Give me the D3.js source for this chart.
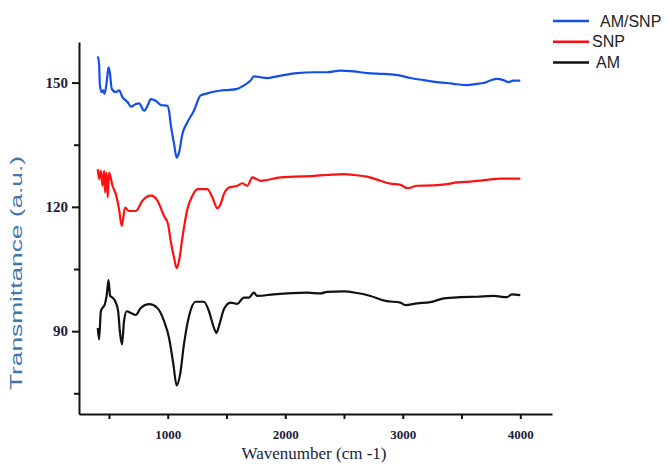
<!DOCTYPE html>
<html>
<head>
<meta charset="utf-8">
<script src="https://cdn.jsdelivr.net/npm/d3@7"></script>
<style>
  body { margin: 0; background: #fff; }
  svg { display: block; }
</style>
</head>
<body>
<div id="chart-container"></div>
<script>
// FTIR spectra (wavenumber cm-1, transmittance a.u.)
const amSnpWave = [405,416,422,437,450,462,479,496,507,524,558,586,615,658,686,728,756,799,828,856,898,941,997,1011,1025,1054,1076,1096,1125,1167,1223,1280,1337,1450,1507,1592,1648,1705,1733,1847,1960,2102,2243,2357,2470,2583,2697,2838,2980,3065,3178,3291,3376,3461,3546,3631,3687,3744,3801,3857,3900,3942,4000];
const amSnpTrans = [156.3,154.5,149.7,147.7,148.1,147.3,149.7,153.7,152.5,148.5,147.7,148.1,146.5,145.3,144.2,144.8,145,143.2,144.4,146,145.6,144.6,144.4,143.2,140,135.2,131.9,133.1,137.6,140.4,143.2,146.9,147.4,148.1,148.2,148.5,149.3,150.5,151.5,151.1,151.7,152.3,152.5,152.5,152.9,152.7,152.3,152.1,151.7,151.1,150.6,150.1,149.9,149.6,149.4,149.7,149.9,150.5,150.9,150.6,150.1,150.5,150.5];

const snpWave = [405,416,431,445,459,467,479,490,501,530,558,586,609,637,671,728,785,856,912,969,1003,1025,1054,1076,1096,1125,1167,1210,1252,1337,1380,1422,1450,1478,1521,1592,1635,1677,1720,1790,1960,2243,2357,2498,2583,2697,2810,2895,2980,3042,3122,3263,3376,3461,3574,3716,3829,4000];
const snpTrans = [129.1,126.7,128.7,125.1,128.7,123.5,128.3,122.3,128.3,125.1,123.1,119.4,115.4,119.8,119,119,121.5,122.7,121.5,117.8,115.8,111.8,107.7,105.2,106.9,112.6,119.4,122.7,124.3,124.3,122.3,119.7,120.7,123.1,124.7,125.1,125.7,125.1,127.1,126.3,127.1,127.5,127.7,127.9,127.7,127.3,126.3,125.6,125.3,124.5,125.1,125.2,125.5,125.9,126.1,126.5,126.8,126.8];

const amWave = [405,416,431,445,465,482,496,510,530,558,578,594,611,628,651,686,728,771,842,912,969,1011,1048,1076,1105,1138,1181,1238,1308,1351,1393,1414,1436,1478,1535,1592,1648,1691,1733,1762,1903,2187,2300,2357,2498,2612,2725,2852,2980,3022,3122,3234,3348,3489,3631,3773,3886,3928,4000];
const amTrans = [90.8,88,94.8,95.6,96.5,98.9,102.3,98.5,98.1,96.9,94.8,89.6,86.8,92.4,94.8,94.4,93.9,95.6,96.5,95.6,92.4,88.4,82,76.9,79.5,86.8,93.6,97.1,97.1,94.8,90.8,89.6,91.2,95.3,96.9,96.6,98.1,98.1,99.3,98.5,98.9,99.3,99.1,99.5,99.6,99.2,98.5,97.3,96.9,96.3,96.7,97.0,97.9,98.2,98.3,98.5,98.2,98.9,98.7];

const xTicks = [1000, 2000, 3000, 4000];
const xMinorTicks = [500, 1500, 2500, 3500];
const yTicks = [90, 120, 150];
const yMinorTicks = [75, 105, 135];

const seriesNames = ["AM/SNP", "SNP", "AM"];
const seriesColors = ["#1450e6", "#ff1010", "#111111"];

const width = 668, height = 472;
const plot = { left: 79, right: 552, top: 42, bottom: 414 };

const svg = d3.select("#chart-container")
  .append("svg")
  .attr("width", width)
  .attr("height", height);

const x = d3.scaleLinear().domain([245, 4270]).range([plot.left, plot.right]);
const y = d3.scaleLinear().domain([70, 159.8]).range([plot.bottom, plot.top]);

// axes
const tickFont = "'Liberation Serif', 'Times New Roman', serif";
const ink = "#1c1c3a";

const xAxis = svg.append("g")
  .attr("transform", `translate(0,${plot.bottom})`)
  .call(d3.axisBottom(x).tickValues(xTicks).tickFormat(d3.format("d"))
    .tickSize(5).tickPadding(11).tickSizeOuter(0));
svg.append("g")
  .attr("transform", `translate(0,${plot.bottom})`)
  .call(d3.axisBottom(x).tickValues(xMinorTicks).tickSize(5).tickFormat("").tickSizeOuter(0))
  .select(".domain").remove();

const yAxis = svg.append("g")
  .attr("transform", `translate(${plot.left},0)`)
  .call(d3.axisLeft(y).tickValues(yTicks).tickSize(7).tickPadding(4).tickSizeOuter(0));
svg.append("g")
  .attr("transform", `translate(${plot.left},0)`)
  .call(d3.axisLeft(y).tickValues(yMinorTicks).tickSize(5).tickFormat("").tickSizeOuter(0))
  .select(".domain").remove();

svg.selectAll(".domain, .tick line")
  .attr("stroke", "#111")
  .attr("stroke-width", 2);

xAxis.selectAll(".tick text")
  .attr("font-family", tickFont)
  .attr("font-weight", "bold")
  .attr("font-size", 13)
  .attr("fill", ink);
yAxis.selectAll(".tick text")
  .attr("font-family", tickFont)
  .attr("font-weight", "bold")
  .attr("font-size", 15)
  .attr("fill", ink);

// axis titles
svg.append("text")
  .attr("x", 314)
  .attr("y", 459)
  .attr("text-anchor", "middle")
  .attr("font-family", tickFont)
  .attr("font-size", 17)
  .attr("fill", ink)
  .text("Wavenumber (cm -1)");

svg.append("text")
  .attr("transform", "translate(22,273) rotate(-90)")
  .attr("text-anchor", "middle")
  .attr("font-family", "'Liberation Sans', Arial, sans-serif")
  .attr("font-size", 16)
  .attr("textLength", 234)
  .attr("lengthAdjust", "spacingAndGlyphs")
  .attr("fill", "#4274ad")
  .text("Transmittance (a.u.)");

// spectra
const series = [
  { wave: amSnpWave, trans: amSnpTrans },
  { wave: snpWave, trans: snpTrans },
  { wave: amWave, trans: amTrans }
];

const line = d3.line()
  .curve(d3.curveMonotoneX)
  .x(d => x(d[0]))
  .y(d => y(d[1]));

series.forEach((s, i) => {
  const pts = s.wave.map((w, j) => [w, s.trans[j]]);
  svg.append("path")
    .datum(pts)
    .attr("fill", "none")
    .attr("stroke", seriesColors[i])
    .attr("stroke-width", 2.2)
    .attr("stroke-linejoin", "round")
    .attr("d", line);
});

// legend
const legendX = [600, 592, 596];
seriesNames.forEach((name, i) => {
  const ly = 21 + i * 20.7;
  svg.append("line")
    .attr("x1", 553).attr("x2", 589)
    .attr("y1", ly).attr("y2", ly)
    .attr("stroke", seriesColors[i])
    .attr("stroke-width", 2.5);
  svg.append("text")
    .attr("x", legendX[i])
    .attr("y", ly)
    .attr("dy", "0.35em")
    .attr("font-family", "'Liberation Sans', Arial, sans-serif")
    .attr("font-size", 16)
    .attr("fill", "#222")
    .text(name);
});
</script>
</body>
</html>
